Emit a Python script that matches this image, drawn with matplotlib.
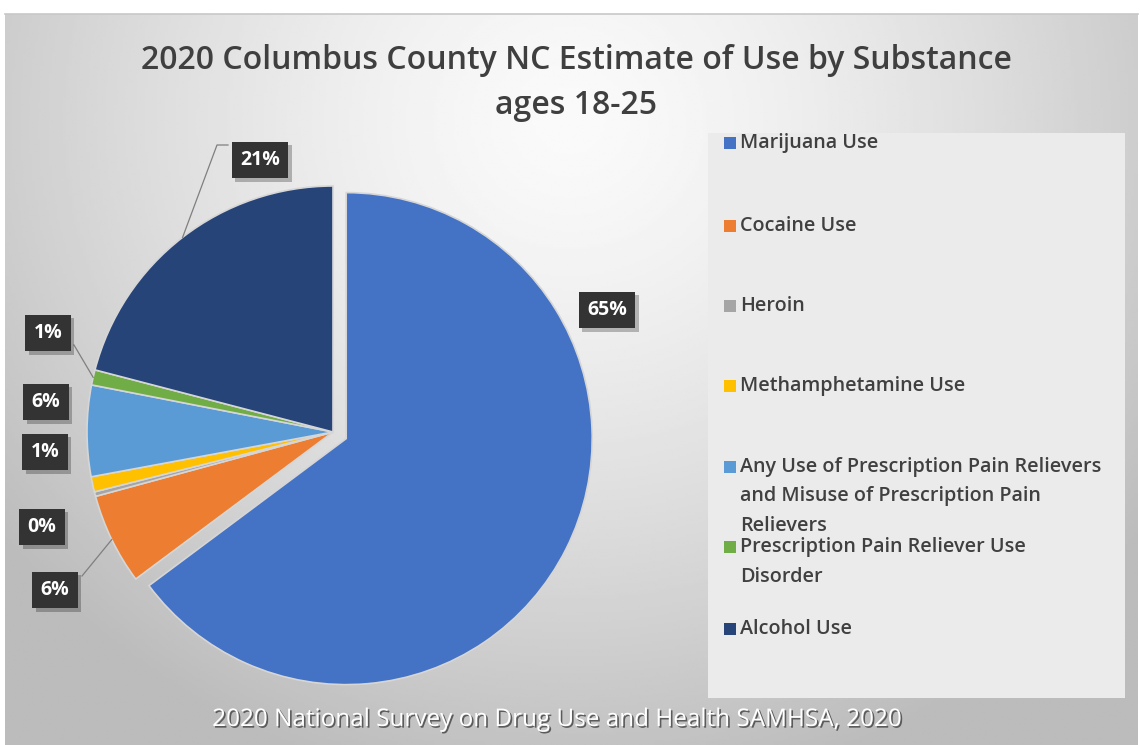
import numpy as np
import matplotlib

matplotlib.use("Agg")
import matplotlib.pyplot as plt
import matplotlib.patheffects as pe
from matplotlib import font_manager
from matplotlib.patches import Rectangle

W, H = 1140, 745

# ---- data -------------------------------------------------------------
substances = [
    "Marijuana Use",
    "Cocaine Use",
    "Heroin",
    "Methamphetamine Use",
    "Any Use of Prescription Pain Relievers\nand Misuse of Prescription Pain\nRelievers",
    "Prescription Pain Reliever Use\nDisorder",
    "Alcohol Use",
]
shares = [65, 6, 0.3, 1, 6, 1, 21]
pct_labels = ["65%", "6%", "0%", "1%", "6%", "1%", "21%"]
colors = ["#4472C4", "#ED7D31", "#A5A5A5", "#FFC000", "#5B9BD5", "#70AD47", "#264478"]

TITLE = "2020 Columbus County NC Estimate of Use by Substance\nages 18-25"
SOURCE = "2020 National Survey on Drug Use and Health SAMHSA, 2020"

# ---- layout (pixels, y measured from the top) -------------------------
PIE_C = (333, 432)
PIE_R = 246
label_xy = [(607, 310), (55, 590), (42, 527), (45, 452), (46, 402), (48, 333), (260, 160)]
legend_y = [143, 226, 306, 386, 467, 547, 629]


def pick(*names):
    have = {f.name for f in font_manager.fontManager.ttflist}
    for n in names:
        if n in have:
            return n
    return "DejaVu Sans"


narrow = pick("Liberation Sans Narrow", "Open Sans", "DejaVu Sans")
body = pick("Open Sans", "Noto Sans", "DejaVu Sans")


def up(y):
    return H - y


fig = plt.figure(figsize=(W / 100, H / 100), dpi=100)
fig.patch.set_facecolor("white")

# background panel with a soft radial gradient
bg = fig.add_axes([0, 0, 1, 1])
bg.axis("off")
gx, gy = np.meshgrid(np.linspace(5, 1138, 400), np.linspace(14, 745, 300))
d = np.sqrt(((gx - 570) / 720) ** 2 + ((gy - 120) / 680) ** 2)
grad = 250 - 62 * np.clip(d, 0, 1) ** 1.4
bg.imshow(grad, extent=(5, 1138, 0, up(14)), origin="upper", cmap="gray",
          vmin=0, vmax=255, aspect="auto", interpolation="bilinear", zorder=0)
bg.plot([5, 1138], [up(14), up(14)], color="#c8c8c8", lw=1.2, zorder=1)
bg.set_xlim(0, W)
bg.set_ylim(0, H)

# legend panel
bg.add_patch(Rectangle((708, up(698)), 417, 565, fc="#ebebeb", ec="none", zorder=2))

# title
bg.text(576, up(83), TITLE, ha="center", va="center", fontsize=23,
        family=narrow, weight="semibold", color="#3f3f3f", linespacing=1.45, zorder=3)

# source footer
bg.text(557, up(720), SOURCE, ha="center", va="center", fontsize=17.5,
        family=narrow, color="white", zorder=3,
        path_effects=[pe.withSimplePatchShadow(offset=(1.2, -1.2),
                                               shadow_rgbFace="#505050", alpha=0.9)])

# legend entries
for name, col, y in zip(substances, colors, legend_y):
    bg.add_patch(Rectangle((724, up(y) - 6), 12, 12, fc=col, ec="none", zorder=3))
    for i, line in enumerate(name.split("\n")):
        bg.text(740, up(y + i * 29.5), line, ha="left", va="center", fontsize=14.2,
                family=body, weight="semibold", color="#404040", zorder=3)

# pie in its own square axes, radius 1 -> PIE_R pixels
half = 300
pax = fig.add_axes([(PIE_C[0] - half) / W, (up(PIE_C[1]) - half) / H,
                    2 * half / W, 2 * half / H])
pax.patch.set_alpha(0)
explode = [0.06, 0, 0, 0, 0, 0, 0]
wedges, _ = pax.pie(shares, colors=colors, startangle=90, counterclock=False,
                    explode=explode, radius=1,
                    wedgeprops=dict(edgecolor="#d6d6d6", linewidth=1.2))
lim = half / PIE_R
pax.set_xlim(-lim, lim)
pax.set_ylim(-lim, lim)
pax.axis("off")

# overlay for data labels and leader lines
ov = fig.add_axes([0, 0, 1, 1])
ov.patch.set_alpha(0)
ov.set_xlim(0, W)
ov.set_ylim(0, H)
ov.axis("off")


def rim(w, r=1.0):
    t = np.deg2rad((w.theta1 + w.theta2) / 2)
    cx, cy = w.center
    return (PIE_C[0] + PIE_R * (cx + r * np.cos(t)),
            up(PIE_C[1]) + PIE_R * (cy + r * np.sin(t)))


# leader lines: alcohol, cocaine, prescription disorder
ax_, ay_ = rim(wedges[6])
ov.plot([ax_, 217, 228], [ay_, up(145), up(145)], color="#7f7f7f", lw=0.9)
cx_, cy_ = rim(wedges[1])
ov.plot([cx_, 82], [cy_, up(576)], color="#7f7f7f", lw=0.9)
px_, py_ = rim(wedges[5])
ov.plot([px_, 74], [py_, up(345)], color="#7f7f7f", lw=0.9)

for lab, (x, y) in zip(pct_labels, label_xy):
    t = ov.text(x, up(y), lab, ha="center", va="center", fontsize=14,
                family=body, weight="bold", color="white",
                bbox=dict(boxstyle="square,pad=0.42", fc="#333333", ec="none"))
    t.get_bbox_patch().set_path_effects(
        [pe.withSimplePatchShadow(offset=(2.5, -2.5), shadow_rgbFace="black", alpha=0.25)])

fig.savefig("out.png", dpi=100)
